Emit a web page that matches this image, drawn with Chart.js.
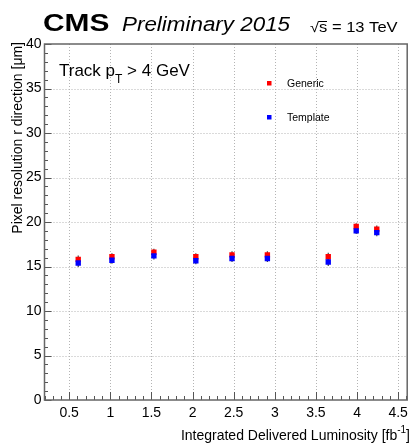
<!DOCTYPE html>
<html>
<head>
<meta charset="utf-8">
<script src="https://cdn.jsdelivr.net/npm/chart.js@4.4.1/dist/chart.umd.min.js"></script>
<style>
  html, body { margin: 0; padding: 0; background: #fff; }
  #wrap { width: 413px; height: 443px; }
</style>
</head>
<body>
<div id="wrap"><canvas id="chart" width="413" height="443"></canvas></div>
<script>
// values
const lumi = [0.61, 1.02, 1.53, 2.04, 2.48, 2.91, 3.65, 3.99, 4.24];
const genericRes = [15.8, 16.1, 16.6, 16.1, 16.3, 16.3, 16.1, 19.5, 19.2];
const genericErr = [0.45, 0.4, 0.4, 0.4, 0.4, 0.4, 0.45, 0.35, 0.4];
const templateRes = [15.4, 15.7, 16.2, 15.65, 15.9, 15.9, 15.5, 19.0, 18.8];
const templateErr = [0.45, 0.4, 0.4, 0.4, 0.4, 0.4, 0.45, 0.35, 0.4];
const xTicks = [0.5, 1, 1.5, 2, 2.5, 3, 3.5, 4, 4.5];
const yTicks = [0, 5, 10, 15, 20, 25, 30, 35, 40];

const FONT = "'Liberation Sans', Arial, Helvetica, sans-serif";

function txt(ctx, s, x, y, font, align, sx) {
  ctx.save();
  ctx.font = font;
  ctx.textAlign = align || "left";
  ctx.textBaseline = "alphabetic";
  ctx.translate(x, y);
  ctx.scale(sx || 1, 1);
  ctx.fillText(s, 0, 0);
  ctx.restore();
}

// ROOT style grid, inner ticks and error bars
const rootFrame = {
  id: "rootFrame",
  beforeDatasetsDraw(chart) {
    const { ctx, chartArea: a, scales } = chart;
    const xs = scales.x, ys = scales.y;
    ctx.save();
    // dotted grid
    ctx.strokeStyle = "#b4b4b4";
    ctx.lineWidth = 1;
    ctx.setLineDash([1, 2]);
    xTicks.forEach((v) => {
      const px = Math.round(xs.getPixelForValue(v)) + 0.5;
      ctx.beginPath(); ctx.moveTo(px, a.top); ctx.lineTo(px, a.bottom); ctx.stroke();
    });
    yTicks.forEach((v) => {
      if (v === 0 || v === 40) return;
      const py = Math.round(ys.getPixelForValue(v)) + 0.5;
      ctx.beginPath(); ctx.moveTo(a.left, py); ctx.lineTo(a.right, py); ctx.stroke();
    });
    ctx.setLineDash([]);
    // ticks
    ctx.strokeStyle = "#555";
    for (let i = 2; i <= 46; i++) {
      const v = i / 10;
      const px = Math.round(xs.getPixelForValue(v)) + 0.5;
      const len = i % 5 === 0 ? 8 : 4;
      ctx.beginPath(); ctx.moveTo(px, a.bottom); ctx.lineTo(px, a.bottom - len); ctx.stroke();
    }
    for (let v = 0; v <= 40; v++) {
      const py = Math.round(ys.getPixelForValue(v)) + 0.5;
      const len = v % 5 === 0 ? 7 : 3.5;
      ctx.beginPath(); ctx.moveTo(a.left, py); ctx.lineTo(a.left + len, py); ctx.stroke();
    }
    // error bars
    ctx.strokeStyle = "#444";
    ctx.lineWidth = 1.2;
    const bars = [[genericRes, genericErr], [templateRes, templateErr]];
    bars.forEach(([vals, errs]) => {
      vals.forEach((v, i) => {
        const px = xs.getPixelForValue(lumi[i]);
        ctx.beginPath();
        ctx.moveTo(px, ys.getPixelForValue(v - errs[i]));
        ctx.lineTo(px, ys.getPixelForValue(v + errs[i]));
        ctx.stroke();
      });
    });
    ctx.restore();
  },
  afterDraw(chart) {
    const { ctx, chartArea: a } = chart;
    ctx.save();
    // frame
    ctx.strokeStyle = "#666";
    ctx.lineWidth = 1.5;
    ctx.strokeRect(a.left, a.top, a.right - a.left, a.bottom - a.top);

    ctx.fillStyle = "#000";
    // header
    txt(ctx, "CMS", 43, 31, "bold 23px " + FONT, "left", 1.3);
    txt(ctx, "Preliminary 2015", 122, 31, "italic 20px " + FONT, "left", 1.12);
    txt(ctx, "\u221As = 13 TeV", 310, 32, "14px " + FONT, "left", 1.18);
    ctx.lineWidth = 1;
    ctx.strokeStyle = "#000";
    ctx.beginPath(); ctx.moveTo(319, 21.5); ctx.lineTo(327, 21.5); ctx.stroke();

    // Track pT label
    ctx.font = "17px " + FONT;
    let x = 59;
    txt(ctx, "Track p", x, 76, "17px " + FONT);
    x += ctx.measureText("Track p").width;
    txt(ctx, "T", x, 83, "12px " + FONT);
    ctx.font = "12px " + FONT;
    x += ctx.measureText("T").width;
    txt(ctx, " > 4 GeV", x, 76, "17px " + FONT);

    // legend
    ctx.fillStyle = "#ff0000";
    ctx.fillRect(267, 81, 4.5, 4.5);
    ctx.fillStyle = "#0000ff";
    ctx.fillRect(267, 115, 4.5, 4.5);
    ctx.fillStyle = "#000";
    txt(ctx, "Generic", 287, 87, "10.5px " + FONT);
    txt(ctx, "Template", 287, 121, "10.5px " + FONT);

    // axis titles
    ctx.font = "14px " + FONT;
    const t1 = "Integrated Delivered Luminosity [fb";
    const w1 = ctx.measureText(t1).width;
    ctx.font = "10px " + FONT;
    const w2 = ctx.measureText("-1").width;
    ctx.font = "14px " + FONT;
    const w3 = ctx.measureText("]").width;
    const xEnd = 410;
    txt(ctx, t1, xEnd - w3 - w2 - w1, 440, "14px " + FONT);
    txt(ctx, "-1", xEnd - w3 - w2, 433, "10px " + FONT);
    txt(ctx, "]", xEnd - w3, 440, "14px " + FONT);

    ctx.translate(22, 42);
    ctx.rotate(-Math.PI / 2);
    txt(ctx, "Pixel resolution r direction [\u03BCm]", 0, 0, "14px " + FONT, "right");
    ctx.restore();
  },
};

new Chart(document.getElementById("chart"), {
  type: "scatter",
  data: {
    datasets: [
      {
        label: "Generic",
        data: lumi.map((x, i) => ({ x: x, y: genericRes[i] })),
        backgroundColor: "#ff0000",
        borderColor: "#ff0000",
        pointStyle: "rect",
        pointRadius: 3.8,
        borderWidth: 0,
        order: 1,
      },
      {
        label: "Template",
        data: lumi.map((x, i) => ({ x: x, y: templateRes[i] })),
        backgroundColor: "#0000ff",
        borderColor: "#0000ff",
        pointStyle: "rect",
        pointRadius: 3.8,
        borderWidth: 0,
        order: 0,
      },
    ],
  },
  options: {
    responsive: false,
    animation: false,
    devicePixelRatio: 1,
    layout: { padding: { top: 44, right: 4.5, left: 0, bottom: 0 } },
    plugins: { legend: { display: false }, tooltip: { enabled: false } },
    scales: {
      x: {
        type: "linear",
        min: 0.2,
        max: 4.61,
        afterBuildTicks: (s) => { s.ticks = xTicks.map((v) => ({ value: v })); },
        afterFit: (s) => { s.height = 43; },
        grid: { display: false, drawTicks: false },
        border: { display: false },
        ticks: {
          padding: 5,
          color: "#000",
          font: { family: FONT, size: 14 },
          maxRotation: 0,
          autoSkip: false,
          callback: (v) => String(v),
        },
      },
      y: {
        min: 0,
        max: 40,
        afterBuildTicks: (s) => { s.ticks = yTicks.map((v) => ({ value: v })); },
        afterFit: (s) => { s.width = 44.5; },
        grid: { display: false, drawTicks: false },
        border: { display: false },
        ticks: {
          padding: 3,
          color: "#000",
          font: { family: FONT, size: 14 },
          callback: (v) => String(v),
        },
      },
    },
  },
  plugins: [rootFrame],
});
</script>
</body>
</html>
